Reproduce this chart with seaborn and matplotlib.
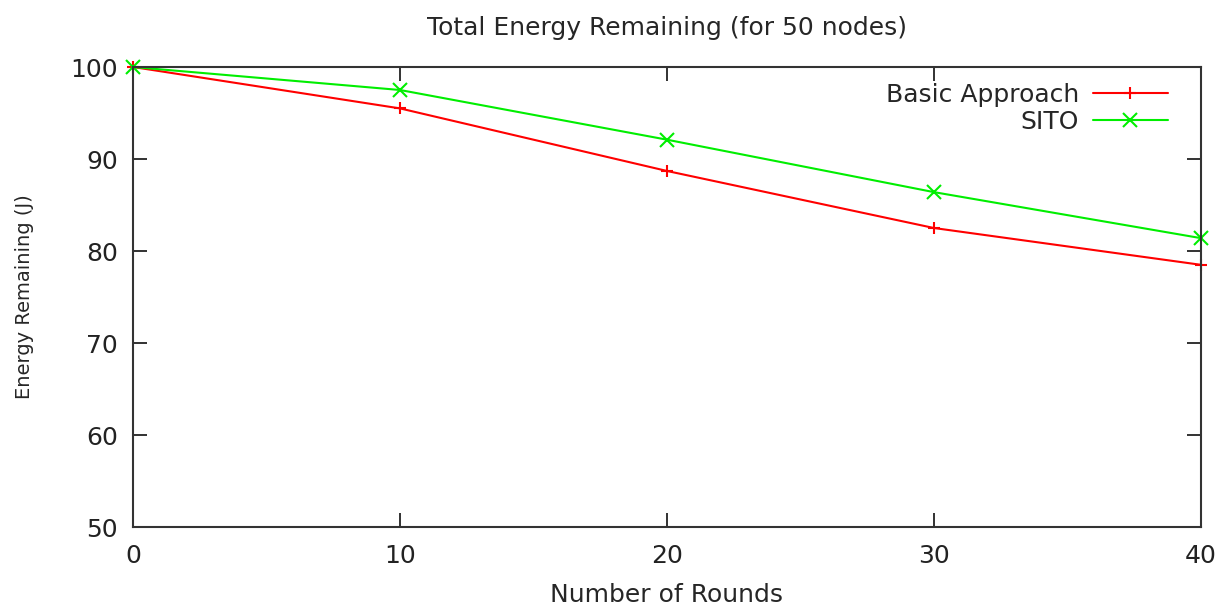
"""Total energy remaining chart (gnuplot look) with seaborn."""

import matplotlib
matplotlib.use("Agg")
import matplotlib.pyplot as plt
import seaborn as sns
import pandas as pd

rounds = [0, 10, 20, 30, 40]
basic_energy = [100.0, 95.5, 88.7, 82.5, 78.5]
sito_energy = [100.0, 97.5, 92.1, 86.4, 81.4]
series_names = ["Basic Approach", "SITO"]

df = pd.concat([
    pd.DataFrame({"rounds": rounds, "energy": basic_energy, "series": series_names[0]}),
    pd.DataFrame({"rounds": rounds, "energy": sito_energy, "series": series_names[1]}),
], ignore_index=True)

sns.set_theme(style="ticks", rc={
    "xtick.direction": "in", "ytick.direction": "in",
    "xtick.top": True, "ytick.right": True,
    "xtick.major.size": 10, "ytick.major.size": 10,
    "xtick.major.width": 1.3, "ytick.major.width": 1.3,
    "axes.edgecolor": "#333333", "axes.linewidth": 1.5,
})
plt.rcParams["font.family"] = ["DejaVu Sans"]

fig = plt.figure(figsize=(12.26, 6.08), dpi=100)
ax = fig.add_axes([0.1085, 0.1332, 0.871, 0.7566])

palette = {"Basic Approach": "#ff0000", "SITO": "#00ee00"}
sizes = {"Basic Approach": 9, "SITO": 10}
sns.lineplot(
    data=df, x="rounds", y="energy", hue="series", style="series",
    palette=palette,
    markers={"Basic Approach": "+", "SITO": "x"},
    dashes=False, markersize=10, linewidth=1.5,
    ax=ax, clip_on=False,
)
# line markers (+, x) need edge colour = line colour
for line, name in zip(ax.get_lines(), series_names):
    line.set_markeredgecolor(line.get_color())
    line.set_markeredgewidth(1.5)
    line.set_markersize(sizes[name])

ax.set_xlim(0, 40)
ax.set_ylim(50, 100)
ax.set_xticks([0, 10, 20, 30, 40])
ax.set_yticks([50, 60, 70, 80, 90, 100])
ax.tick_params(labelsize=18, colors="#222222", pad=11)
ax.tick_params(axis="x", pad=12)
ax.set_xlabel("Number of Rounds", fontsize=18, labelpad=11)
ax.set_ylabel("Energy Remaining (J)", fontsize=14, labelpad=26)
ax.set_title("Total Energy Remaining (for 50 nodes)", fontsize=18, pad=23)

handles, labels = ax.get_legend_handles_labels()
for h, name in zip(handles, series_names):
    h.set_markeredgecolor(h.get_color())
    h.set_markeredgewidth(1.5)
    h.set_markersize(sizes[name])
ax.legend(handles, labels, loc="upper right", frameon=False, markerfirst=False,
          fontsize=18, handlelength=3.0, handletextpad=0.55, alignment="right",
          bbox_to_anchor=(0.99, 1.014), labelspacing=0.1)

fig.savefig("out.png", dpi=100)
